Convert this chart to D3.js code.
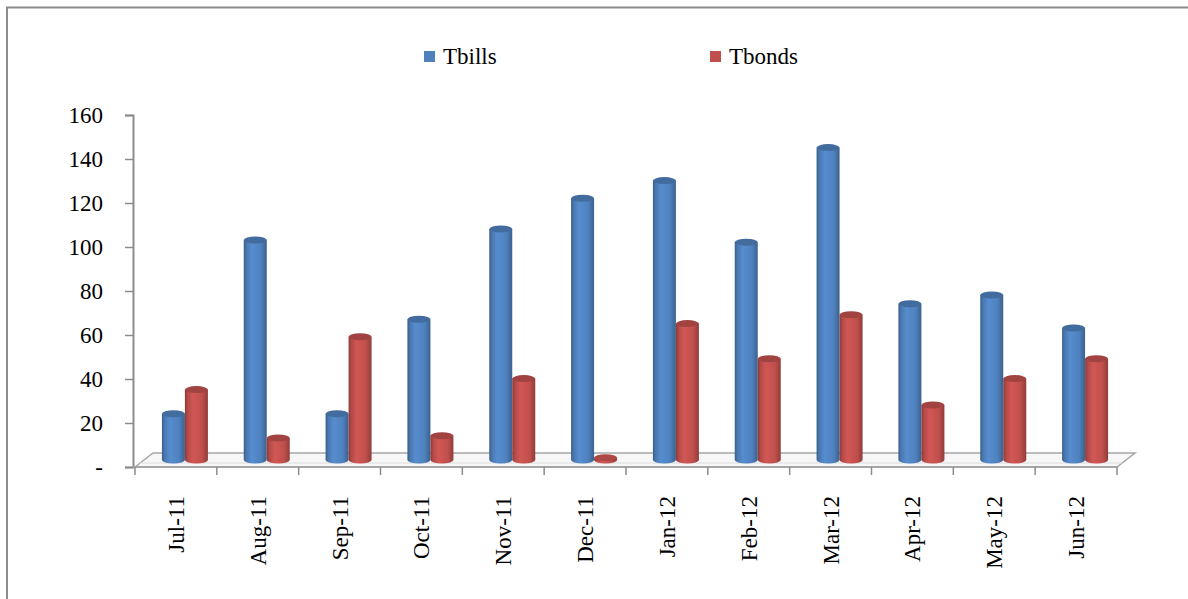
<!DOCTYPE html>
<html>
<head>
<meta charset="utf-8">
<script src="https://cdn.jsdelivr.net/npm/d3@7"></script>
<style>
  body { margin: 0; background: #fff; }
  svg text { font-family: 'Liberation Serif', 'Times New Roman', Tinos, 'DejaVu Serif', serif !important; fill: #000; }
</style>
</head>
<body>
<svg id="chart" width="1188" height="599"></svg>
<script>
    var months = ["Jul-11", "Aug-11", "Sep-11", "Oct-11", "Nov-11", "Dec-11",
                  "Jan-12", "Feb-12", "Mar-12", "Apr-12", "May-12", "Jun-12"];
    var tbills = [21, 100, 21, 64, 105, 119, 127, 99, 142, 71, 75, 60];
    var tbonds = [32, 10, 56, 11, 37, 1, 62, 46, 66, 25, 37, 46];
    var seriesNames = ["Tbills", "Tbonds"];
    var seriesColors = ["#4F81BD", "#C0504D"];
    var yTicks = [0, 20, 40, 60, 80, 100, 120, 140, 160];

    var serif = "'Liberation Serif', 'Times New Roman', Tinos, 'DejaVu Serif', serif";
    var svg = d3.select("#chart");

    // outer border (only top and left edges are inside the picture)
    svg.append("path")
      .attr("d", "M 7 600 L 7 7.5 L 1190 7.5")
      .attr("fill", "none")
      .attr("stroke", "#8c8c8c")
      .attr("stroke-width", 2);

    var xScale = d3.scaleBand().domain(months).range([135, 1117]).padding(0);
    var yScale = d3.scaleLinear().domain([0, 160]).range([467, 115]);

    // depth offset of the 3d floor (front -> back) and of the bars (middle)
    var depthX = 18, depthY = -14;
    var barDX = depthX / 2, barDY = depthY / 2;
    var barW = 23;

    // gradients to give the columns a cylinder look
    var defs = svg.append("defs");
    seriesColors.forEach(function(c, i) {
      var base = d3.color(c);
      var g = defs.append("linearGradient").attr("id", "grad" + i)
        .attr("x1", "0%").attr("x2", "100%").attr("y1", "0%").attr("y2", "0%");
      g.append("stop").attr("offset", "0%").attr("stop-color", base.darker(0.9));
      g.append("stop").attr("offset", "12%").attr("stop-color", base.darker(0.2));
      g.append("stop").attr("offset", "35%").attr("stop-color", base.brighter(0.25));
      g.append("stop").attr("offset", "75%").attr("stop-color", base);
      g.append("stop").attr("offset", "100%").attr("stop-color", base.darker(0.8));
    });

    // floor
    var x0 = xScale.range()[0], x1 = xScale.range()[1];
    var y0 = yScale(0);
    svg.append("path")
      .attr("d", "M " + x0 + " " + y0 + " L " + (x0 + depthX) + " " + (y0 + depthY) +
                 " L " + (x1 + depthX) + " " + (y0 + depthY) + " L " + x1 + " " + y0 + " Z")
      .attr("fill", "#f7f7f7")
      .attr("stroke", "#a6a6a6")
      .attr("stroke-width", 1.5);
    svg.append("line")
      .attr("x1", x0 + 5).attr("x2", x1 + 5)
      .attr("y1", y0 - 4).attr("y2", y0 - 4)
      .attr("stroke", "#dcdcdc").attr("stroke-width", 1);

    // y axis
    var yAxis = d3.axisLeft(yScale)
      .tickValues(yTicks)
      .tickSize(8)
      .tickPadding(22)
      .tickFormat(function(d) { return d === 0 ? "-" : d; });
    var yg = svg.append("g").attr("transform", "translate(133,0)").call(yAxis);
    yg.attr("font-family", serif).attr("font-size", 23);
    yg.select(".domain").attr("stroke", "#8c8c8c").attr("stroke-width", 2);
    yg.selectAll(".tick line").attr("stroke", "#8c8c8c").attr("stroke-width", 1.5);
    yg.selectAll(".tick text").attr("fill", "#000");

    // x axis line + ticks at band edges
    svg.append("line")
      .attr("x1", 133).attr("x2", x1)
      .attr("y1", y0).attr("y2", y0)
      .attr("stroke", "#a6a6a6").attr("stroke-width", 2);
    var edges = months.map(function(m) { return xScale(m); }).concat([x1]);
    svg.selectAll(".xtick").data(edges).enter().append("line")
      .attr("class", "xtick")
      .attr("x1", function(d) { return d; }).attr("x2", function(d) { return d; })
      .attr("y1", y0).attr("y2", y0 + 8)
      .attr("stroke", "#8c8c8c").attr("stroke-width", 1.5);

    svg.selectAll(".xlabel").data(months).enter().append("text")
      .attr("class", "xlabel")
      .attr("transform", function(d) {
        return "translate(" + (xScale(d) + xScale.bandwidth() / 2 + 8) + ",496) rotate(-90)";
      })
      .attr("text-anchor", "end")
      .attr("font-family", serif)
      .attr("font-size", 23)
      .text(function(d) { return d; });

    // columns
    var barData = [];
    months.forEach(function(m, i) {
      barData.push({month: m, s: 0, v: tbills[i]});
      barData.push({month: m, s: 1, v: tbonds[i]});
    });
    var ry = 3.5;
    var bars = svg.append("g").selectAll("g").data(barData).enter().append("g");
    bars.each(function(d) {
      var g = d3.select(this);
      var cx = xScale(d.month) + xScale.bandwidth() / 2 + barDX;
      var left = d.s === 0 ? cx - barW : cx;
      var top = yScale(d.v) + barDY;
      var bottom = y0 + barDY;
      var h = Math.max(bottom - top, 0);
      g.append("path")
        .attr("d", "M " + left + " " + top +
                   " L " + left + " " + bottom +
                   " A " + (barW / 2) + " " + ry + " 0 0 0 " + (left + barW) + " " + bottom +
                   " L " + (left + barW) + " " + top + " Z")
        .attr("fill", "url(#grad" + d.s + ")");
      g.append("ellipse")
        .attr("cx", left + barW / 2).attr("cy", top)
        .attr("rx", barW / 2).attr("ry", ry)
        .attr("fill", d3.color(seriesColors[d.s]).darker(h < 4 ? 0.3 : 0.5));
    });

    // legend
    var legendX = [424, 710];
    var legend = svg.append("g").selectAll("g").data(seriesNames).enter().append("g")
      .attr("transform", function(d, i) { return "translate(" + legendX[i] + ",51)"; });
    legend.append("rect")
      .attr("width", 11).attr("height", 11)
      .attr("fill", function(d, i) { return seriesColors[i]; });
    legend.append("text")
      .attr("x", 19).attr("y", 13)
      .attr("font-family", serif)
      .attr("font-size", 23)
      .text(function(d) { return d; });
</script>
</body>
</html>
